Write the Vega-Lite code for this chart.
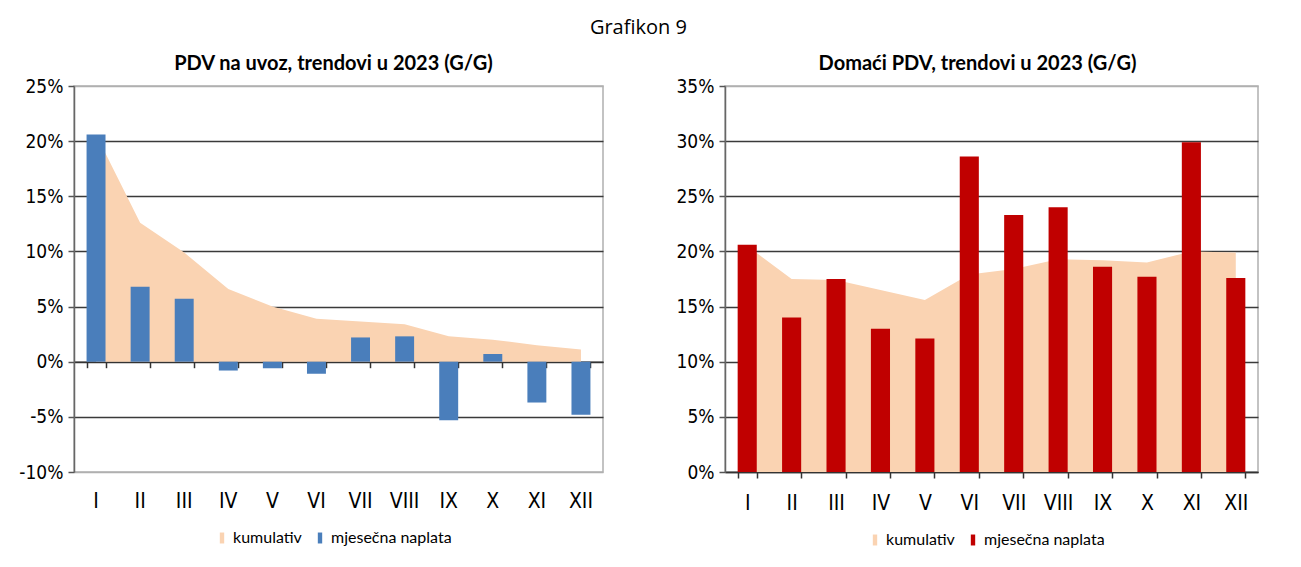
{
  "$schema": "https://vega.github.io/schema/vega-lite/v6.json",
  "background": "white",
  "padding": {"left": 18, "top": 18, "right": 0, "bottom": 0},
  "title": {"text": "Grafikon 9", "font": "Open Sans", "fontSize": 20, "fontWeight": "normal", "color": "#000", "anchor": "middle", "dy": -15, "offset": 0},
  "spacing": 71,
  "config": {
    "view": {"stroke": "#b0b0b0", "strokeWidth": 1.5},
    "axis": {"labelFont": "Liberation Sans Narrow, DejaVu Sans Condensed, sans-serif", "labelColor": "#000", "title": null},
    "title": {"font": "Lato", "fontSize": 20, "fontWeight": "bold", "color": "#000", "anchor": "middle", "offset": 3},
    "legend": {"labelFont": "Lato", "labelFontSize": 16, "labelColor": "#000", "title": null, "orient": "none", "direction": "horizontal", "symbolType": "M-0.4,-1H0.4V1H-0.4Z", "symbolSize": 120, "symbolStrokeWidth": 0, "columnPadding": 10, "labelOffset": 3}
  },
  "resolve": {"scale": {"color": "independent", "x": "independent", "y": "independent"}, "legend": {"color": "independent"}},
  "hconcat": [
    {
      "width": 529,
      "height": 386,
      "title": {"text": "PDV na uvoz, trendovi u 2023 (G/G)", "dx": -5},
      "data": {"values": [
        {"month": "I", "kumulativ": 20.6, "mjesecna": 20.6},
        {"month": "II", "kumulativ": 12.6, "mjesecna": 6.8},
        {"month": "III", "kumulativ": 9.9, "mjesecna": 5.7},
        {"month": "IV", "kumulativ": 6.6, "mjesecna": -0.8},
        {"month": "V", "kumulativ": 5.0, "mjesecna": -0.6},
        {"month": "VI", "kumulativ": 3.9, "mjesecna": -1.1},
        {"month": "VII", "kumulativ": 3.65, "mjesecna": 2.2},
        {"month": "VIII", "kumulativ": 3.4, "mjesecna": 2.3},
        {"month": "IX", "kumulativ": 2.3, "mjesecna": -5.3},
        {"month": "X", "kumulativ": 2.0, "mjesecna": 0.7},
        {"month": "XI", "kumulativ": 1.5, "mjesecna": -3.7},
        {"month": "XII", "kumulativ": 1.1, "mjesecna": -4.8}
      ]},
      "resolve": {"axis": {"x": "independent"}},
      "layer": [
        {
          "mark": {"type": "area", "opacity": 1},
          "encoding": {
            "x": {"field": "month", "type": "ordinal", "sort": null,
              "scale": {"type": "band", "paddingInner": 0.57, "paddingOuter": 0.285},
              "axis": {"orient": "top", "offset": -275.7, "labels": false, "tickBand": "extent", "tickSize": -6, "tickColor": "#333", "tickWidth": 1.5, "domainColor": "#333", "domainWidth": 1.5, "grid": false}},
            "y": {"field": "kumulativ", "type": "quantitative",
              "scale": {"domain": [-10, 25], "nice": false, "zero": false},
              "axis": {"values": [-10, -5, 0, 5, 10, 15, 20, 25], "labelExpr": "datum.value + '%'", "labelFontSize": 19, "labelPadding": 5, "tickSize": 6, "tickColor": "#555", "tickWidth": 1.5, "domainColor": "#666", "domainWidth": 1.5,
                "grid": true, "gridWidth": 1.5, "gridColor": {"condition": {"test": "datum.value == 25 || datum.value == -10", "value": "#b0b0b0"}, "value": "#3a3a3a"}}},
            "y2": {"datum": 0},
            "color": {"datum": "kumulativ", "type": "nominal",
              "scale": {"domain": ["kumulativ", "mjesečna naplata"], "range": ["#FAD3B2", "#4A7EBB"]},
              "legend": {"legendX": 140, "legendY": 444}}
          }
        },
        {
          "mark": {"type": "bar"},
          "encoding": {
            "x": {"field": "month", "type": "ordinal", "sort": null,
              "axis": {"orient": "bottom", "labelFontSize": 21, "labelPadding": 18, "ticks": false, "domain": false, "grid": false, "labelAngle": 0}},
            "y": {"field": "mjesecna", "type": "quantitative"},
            "color": {"datum": "mjesečna naplata", "type": "nominal"}
          }
        }
      ]
    },
    {
      "width": 533,
      "height": 386,
      "title": {"text": "Domaći PDV, trendovi u 2023 (G/G)", "dx": -14},
      "data": {"values": [
        {"month": "I", "kumulativ": 20.5, "mjesecna": 20.6},
        {"month": "II", "kumulativ": 17.5, "mjesecna": 14.0},
        {"month": "III", "kumulativ": 17.4, "mjesecna": 17.5},
        {"month": "IV", "kumulativ": 16.5, "mjesecna": 13.0},
        {"month": "V", "kumulativ": 15.6, "mjesecna": 12.1},
        {"month": "VI", "kumulativ": 17.9, "mjesecna": 28.6},
        {"month": "VII", "kumulativ": 18.4, "mjesecna": 23.3},
        {"month": "VIII", "kumulativ": 19.3, "mjesecna": 24.0},
        {"month": "IX", "kumulativ": 19.2, "mjesecna": 18.6},
        {"month": "X", "kumulativ": 19.0, "mjesecna": 17.7},
        {"month": "XI", "kumulativ": 20.0, "mjesecna": 29.9},
        {"month": "XII", "kumulativ": 19.9, "mjesecna": 17.6}
      ]},
      "layer": [
        {
          "mark": {"type": "area", "opacity": 1},
          "encoding": {
            "x": {"field": "month", "type": "ordinal", "sort": null,
              "scale": {"type": "band", "paddingInner": 0.57, "paddingOuter": 0.285},
              "axis": {"orient": "bottom", "labelFontSize": 21, "labelPadding": 14, "labelAngle": 0, "tickBand": "extent", "tickSize": 6, "tickColor": "#333", "tickWidth": 1.5, "domainColor": "#333", "domainWidth": 1.5, "grid": false}},
            "y": {"field": "kumulativ", "type": "quantitative",
              "scale": {"domain": [0, 35], "nice": false},
              "axis": {"values": [0, 5, 10, 15, 20, 25, 30, 35], "labelExpr": "datum.value + '%'", "labelFontSize": 19, "labelPadding": 5, "tickSize": 6, "tickColor": "#555", "tickWidth": 1.5, "domainColor": "#666", "domainWidth": 1.5,
                "grid": true, "gridWidth": 1.5, "gridColor": {"condition": {"test": "datum.value == 35", "value": "#b0b0b0"}, "value": "#3a3a3a"}}},
            "y2": {"datum": 0},
            "color": {"datum": "kumulativ", "type": "nominal",
              "scale": {"domain": ["kumulativ", "mjesečna naplata"], "range": ["#FAD3B2", "#C00000"]},
              "legend": {"legendX": 142, "legendY": 446}}
          }
        },
        {
          "mark": {"type": "bar"},
          "encoding": {
            "x": {"field": "month", "type": "ordinal", "sort": null},
            "y": {"field": "mjesecna", "type": "quantitative"},
            "color": {"datum": "mjesečna naplata", "type": "nominal"}
          }
        }
      ]
    }
  ]
}
